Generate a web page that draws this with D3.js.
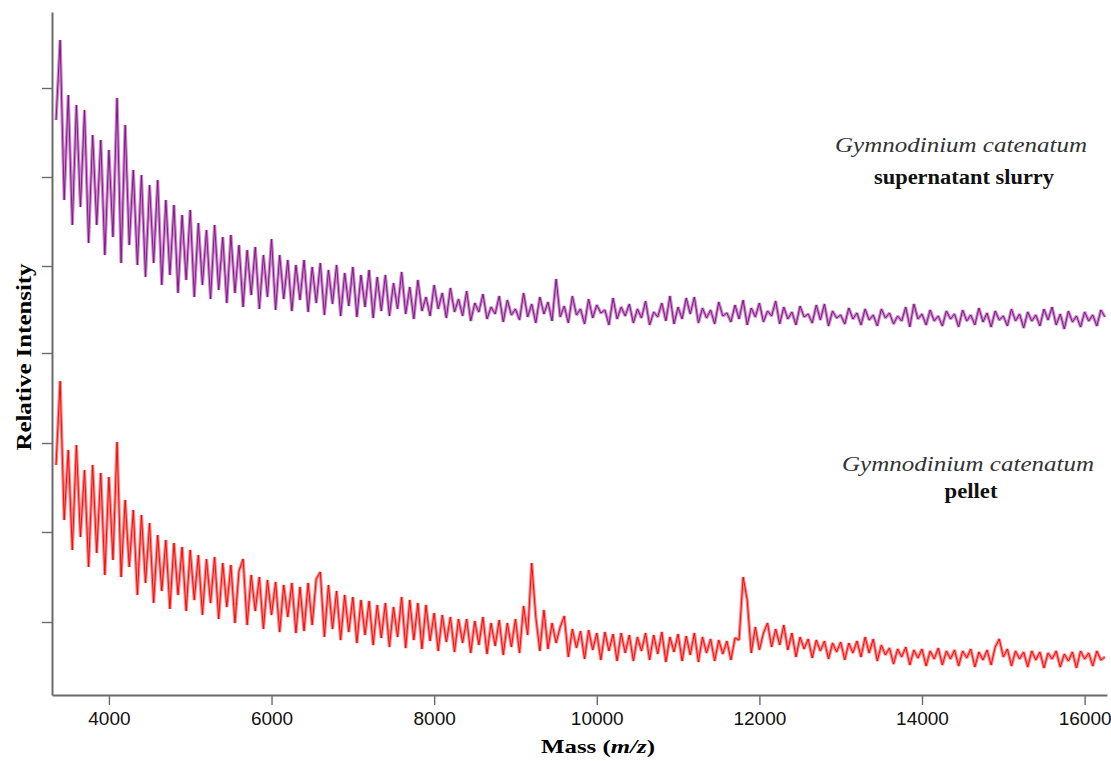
<!DOCTYPE html>
<html>
<head>
<meta charset="utf-8">
<script src="https://cdn.jsdelivr.net/npm/d3@7"></script>
<style>
  body { margin: 0; background: #fff; }
  svg { display: block; }
</style>
</head>
<body>
<svg width="1111" height="761"></svg>
<script>
// spectra sampled every 50 Da from 3350 m/z, arbitrary intensity units (slurry is offset above pellet)
const massStart = 3350, massStep = 50;

const slurry = [
  575,655,495,600,470,590,488,585,452,560,470,555,440,545,458,597,432,570,450,525,
  430,520,418,510,432,515,410,495,420,490,402,480,415,485,398,472,410,465,396,470,
  405,458,392,460,402,450,388,445,400,448,386,440,398,456,385,440,396,435,384,430,
  395,435,383,428,392,432,380,425,391,430,379,422,389,428,378,420,388,425,377,418,
  384,420,379,412,386,423,381,408,376,415,384,398,379,410,386,402,377,407,383,396,
  379,404,374,392,383,401,376,388,381,399,373,395,380,386,375,402,378,391,372,398,
  381,393,374,416,378,389,372,399,380,386,371,396,377,390,382,385,370,397,376,388,
  379,391,372,386,377,394,370,383,378,392,374,399,371,388,376,397,381,398,372,387,
  377,385,371,393,379,382,373,390,376,395,370,387,378,392,373,384,379,394,371,388,
  376,383,370,389,378,381,372,390,375,391,369,384,377,380,371,387,376,382,370,386,
  375,380,369,386,377,382,371,379,374,388,368,391,376,381,370,385,374,379,369,384,
  376,381,368,385,374,380,370,387,373,382,368,384,375,379,369,386,374,381,367,383,
  374,380,369,386,375,388,370,381,366,384,373,379,368,383,374,380,369,385,378
];

const pellet = [
  230,314,175,245,145,250,158,225,128,230,142,222,120,218,135,253,118,195,128,185,
  100,180,112,172,92,160,104,155,86,152,100,148,84,145,95,140,80,136,92,138,
  76,132,88,130,72,124,136,70,120,84,118,66,115,80,113,63,110,78,112,62,
  108,64,112,70,116,123,58,110,66,104,55,100,63,98,52,95,60,94,50,90,
  57,92,48,88,58,98,47,95,55,92,46,90,54,82,44,80,53,78,43,76,
  52,76,42,74,50,78,41,72,49,75,40,72,48,76,42,89,60,132,78,44,
  85,46,72,52,68,79,38,66,47,64,36,65,45,62,35,63,44,61,34,62,
  42,60,34,58,44,62,35,60,41,63,33,58,43,61,34,59,40,62,33,58,
  42,56,34,55,41,54,35,57,55,118,95,42,68,45,62,72,48,66,50,70,
  45,62,38,58,46,56,37,55,44,54,36,52,43,53,35,52,42,54,38,58,
  42,56,34,50,40,47,31,46,38,48,30,45,37,46,29,44,36,47,30,44,
  36,45,29,44,37,46,28,43,35,45,30,48,56,38,46,29,44,36,43,28,
  44,35,43,27,42,36,44,28,41,34,43,27,44,36,42,29,44,35,38
];

const xTicks = [4000, 6000, 8000, 10000, 12000, 14000, 16000];
const yTicks = [73, 163, 252, 342, 429, 518, 607];
const species = 'Gymnodinium catenatum';
const sampleNames = ['supernatant slurry', 'pellet'];

const svg = d3.select('svg');
const width = Number(svg.attr('width')), height = Number(svg.attr('height'));

const render = () => {
    const margin = {left: 52, right: 4, top: 12, bottom: 66};
    const innerWidth = width - (margin.left + margin.right);
    const innerHeight = height - (margin.top + margin.bottom);

    const xScale = d3.scaleLinear()
        .domain([3300, 16275])
        .range([0, innerWidth]);

    const yScale = d3.scaleLinear()
        .domain([0, 683])
        .range([innerHeight, 0]);

    const g = svg.append('g')
        .attr('transform', `translate(${margin.left},${margin.top})`);

    const line = d3.line()
        .x((d, i) => xScale(massStart + i * massStep))
        .y(d => yScale(d));

    const series = [
        {values: slurry, light: '#c98ac9', dark: '#800a82'},
        {values: pellet, light: '#ff8585', dark: '#f20000'}
    ];
    series.forEach(s => {
        g.append('path').attr('d', line(s.values))
            .attr('fill', 'none').attr('stroke', s.light).attr('stroke-width', 3.2)
            .attr('stroke-linejoin', 'bevel');
        g.append('path').attr('d', line(s.values))
            .attr('fill', 'none').attr('stroke', s.dark).attr('stroke-width', 0.9);
    });

    const xAxis = g.append('g')
        .attr('transform', `translate(0,${innerHeight})`)
        .call(d3.axisBottom(xScale).tickValues(xTicks).tickSize(10).tickSizeOuter(0).tickPadding(7).tickFormat(d3.format('d')));
    const yAxis = g.append('g')
        .call(d3.axisLeft(yScale).tickValues(yTicks).tickSize(10).tickSizeOuter(0).tickFormat(''));

    [xAxis, yAxis].forEach(a => {
        a.select('.domain').attr('stroke', '#6a6a6a').attr('stroke-width', 2);
        a.selectAll('.tick line').attr('stroke', '#6a6a6a').attr('stroke-width', 1.4);
    });
    xAxis.selectAll('.tick text')
        .attr('fill', '#111')
        .style('font-family', '"Liberation Sans", Arial, sans-serif')
        .style('font-size', '19px');

    // axis titles
    const xTitle = svg.append('text')
        .attr('x', 598).attr('y', 753)
        .attr('text-anchor', 'middle')
        .attr('textLength', 114).attr('lengthAdjust', 'spacingAndGlyphs')
        .style('font-family', '"Liberation Serif", "DejaVu Serif", serif')
        .style('font-weight', 'bold').style('font-size', '19px');
    xTitle.append('tspan').text('Mass (');
    xTitle.append('tspan').style('font-style', 'italic').text('m/z');
    xTitle.append('tspan').text(')');

    svg.append('text')
        .attr('transform', 'translate(31,357) rotate(-90)')
        .attr('text-anchor', 'middle')
        .attr('textLength', 187).attr('lengthAdjust', 'spacingAndGlyphs')
        .style('font-family', '"Liberation Serif", "DejaVu Serif", serif')
        .style('font-weight', 'bold').style('font-size', '20px')
        .text('Relative Intensity');

    // sample labels
    const labels = [
        {x: 961, y: 152, name: sampleNames[0], nameLen: 180, nameY: 184},
        {x: 968, y: 471, name: sampleNames[1], nameLen: 53, nameY: 498}
    ];
    labels.forEach(l => {
        svg.append('text')
            .attr('x', l.x).attr('y', l.y)
            .attr('text-anchor', 'middle')
            .attr('textLength', 252).attr('lengthAdjust', 'spacingAndGlyphs')
            .attr('fill', '#333')
            .style('font-family', '"Liberation Serif", "DejaVu Serif", serif')
            .style('font-style', 'italic').style('font-size', '21px')
            .text(species);
        svg.append('text')
            .attr('x', l.x + 3).attr('y', l.nameY)
            .attr('text-anchor', 'middle')
            .attr('textLength', l.nameLen).attr('lengthAdjust', 'spacingAndGlyphs')
            .attr('fill', '#111')
            .style('font-family', '"Liberation Serif", "DejaVu Serif", serif')
            .style('font-weight', 'bold').style('font-size', '20px')
            .text(l.name);
    });
};

render();
</script>
</body>
</html>
